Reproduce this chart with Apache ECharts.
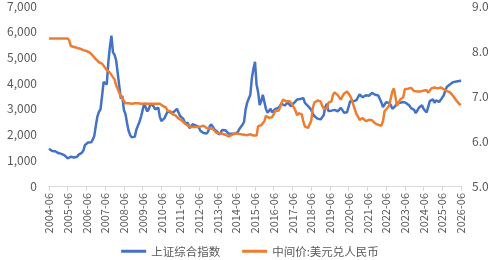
<!DOCTYPE html>
<html>
<head>
<meta charset="utf-8">
<script src="https://cdn.jsdelivr.net/npm/echarts@6/dist/echarts.min.js"></script>
<style>
  html, body { margin: 0; padding: 0; background: #fff; }
  #chart { width: 500px; height: 260px; }
</style>
</head>
<body>
<div id="chart"></div>
<script>
'use strict';

// monthly, 2004-06 .. 2026-06
var startYear = 2004, startMonth = 6, endYear = 2026, endMonth = 6;

var sseIndex = [
    1450, 1380, 1360, 1370, 1350, 1320, 1280,
    1240, 1250, 1220, 1190, 1120, 1070, 1060, 1140, 1170, 1110, 1100, 1140,
    1220, 1280, 1290, 1370, 1590, 1650, 1690, 1620, 1700, 1800, 1940, 2340,
    2700, 2880, 2980, 3500, 4050, 4050, 3950, 4800, 5400, 5850, 5200, 5100,
    4900, 4400, 3900, 3400, 3500, 2950, 2800, 2450, 2150, 1980, 1890, 1960,
    1920, 2200, 2250, 2500, 2700, 2950, 3230, 3050, 2900, 3000, 3200, 3150,
    3100, 2980, 3050, 3050, 2700, 2520, 2560, 2640, 2620, 2900, 2960, 2850,
    2780, 2880, 2940, 3000, 2860, 2720, 2760, 2620, 2460, 2400, 2450, 2250,
    2240, 2400, 2350, 2360, 2400, 2280, 2150, 2120, 2060, 2090, 2040, 2120,
    2320, 2400, 2300, 2200, 2250, 2100, 2000, 2080, 2180, 2180, 2170, 2160,
    2040, 2080, 2030, 2060, 2030, 2040, 2100, 2220, 2300, 2380, 2500, 2980,
    3250, 3300, 3550, 4200, 4550, 4830, 3950, 3650, 3150, 3300, 3550, 3580,
    3000, 2850, 2900, 3000, 2860, 2890, 3000, 3060, 3030, 3080, 3200, 3180,
    3130, 3200, 3240, 3200, 3100, 3150, 3230, 3280, 3360, 3390, 3380, 3310,
    3420, 3230, 3220, 3110, 3140, 2960, 2820, 2720, 2720, 2620, 2630, 2590,
    2580, 2750, 3060, 3200, 2920, 2950, 2930, 2860, 2960, 2950, 2900, 2960,
    3040, 2950, 2850, 2810, 2870, 2940, 3300, 3350, 3290, 3300, 3340, 3400,
    3560, 3540, 3450, 3440, 3530, 3570, 3510, 3480, 3620, 3570, 3550, 3610,
    3520, 3470, 3250, 3070, 3080, 3260, 3270, 3230, 3150, 3000, 3060, 3120,
    3220, 3260, 3240, 3300, 3270, 3210, 3220, 3190, 3120, 3030, 3050, 2960,
    2830, 2860, 3040, 3060, 3140, 3000, 2940, 2860, 2850, 3300, 3350, 3370,
    3240, 3330, 3370, 3270, 3350, 3390, 3530, 3720, 3860, 3920, 3960, 3920,
    4040, 4100, 4060, 4110, 4080, 4110
];

var usdCny = [
    8.28, 8.28, 8.28, 8.28, 8.28, 8.28, 8.28,
    8.28, 8.28, 8.28, 8.28, 8.28, 8.28, 8.23, 8.11, 8.09, 8.09, 8.08, 8.07,
    8.06, 8.05, 8.04, 8.02, 8.01, 8.00, 7.99, 7.97, 7.93, 7.90, 7.86, 7.82,
    7.78, 7.75, 7.74, 7.72, 7.67, 7.63, 7.58, 7.56, 7.52, 7.50, 7.42, 7.37,
    7.24, 7.16, 7.07, 7.00, 6.97, 6.89, 6.84, 6.84, 6.84, 6.83, 6.83, 6.84,
    6.84, 6.84, 6.84, 6.83, 6.83, 6.83, 6.83, 6.83, 6.83, 6.83, 6.83, 6.83,
    6.83, 6.83, 6.83, 6.83, 6.83, 6.82, 6.78, 6.79, 6.74, 6.67, 6.66, 6.66,
    6.60, 6.58, 6.57, 6.53, 6.50, 6.47, 6.46, 6.42, 6.39, 6.36, 6.34, 6.32,
    6.31, 6.30, 6.31, 6.29, 6.31, 6.32, 6.32, 6.34, 6.34, 6.30, 6.29, 6.29,
    6.28, 6.28, 6.27, 6.23, 6.19, 6.17, 6.17, 6.17, 6.16, 6.14, 6.14, 6.12,
    6.10, 6.11, 6.13, 6.16, 6.17, 6.16, 6.16, 6.16, 6.15, 6.14, 6.14, 6.12,
    6.13, 6.14, 6.15, 6.13, 6.12, 6.12, 6.12, 6.33, 6.37, 6.35, 6.38, 6.44,
    6.56, 6.53, 6.51, 6.47, 6.53, 6.59, 6.67, 6.65, 6.67, 6.74, 6.85, 6.92,
    6.90, 6.88, 6.89, 6.89, 6.88, 6.81, 6.77, 6.67, 6.57, 6.62, 6.62, 6.59,
    6.43, 6.32, 6.32, 6.29, 6.37, 6.44, 6.73, 6.85, 6.84, 6.90, 6.93, 6.88,
    6.79, 6.72, 6.71, 6.72, 6.85, 6.89, 6.88, 7.03, 7.08, 7.07, 7.02, 7.01,
    6.92, 6.99, 7.05, 7.07, 7.10, 7.08, 7.00, 6.92, 6.81, 6.70, 6.60, 6.54,
    6.47, 6.46, 6.51, 6.51, 6.44, 6.43, 6.47, 6.47, 6.46, 6.42, 6.39, 6.37,
    6.36, 6.34, 6.34, 6.44, 6.66, 6.70, 6.74, 6.79, 6.95, 7.10, 7.17, 6.98,
    6.78, 6.86, 6.92, 6.89, 6.97, 7.15, 7.17, 7.16, 7.18, 7.18, 7.15, 7.11,
    7.10, 7.10, 7.10, 7.10, 7.11, 7.12, 7.13, 7.13, 7.07, 7.09, 7.17, 7.19,
    7.19, 7.17, 7.17, 7.20, 7.19, 7.17, 7.15, 7.13, 7.11, 7.10, 7.08, 7.05,
    7.00, 6.95, 6.90, 6.86, 6.82, 6.80
];

var seriesNames = ['上证综合指数', '中间价:美元兑人民币'];
var seriesColors = ['#4472c4', '#ed7d31'];

function buildMonths() {
    var months = [];
    var y = startYear, m = startMonth;
    while (y < endYear || (y === endYear && m <= endMonth)) {
        months.push(y + '-' + (m < 10 ? '0' + m : m));
        m++;
        if (m > 12) { m = 1; y++; }
    }
    return months;
}

var months = buildMonths();
var labelFont = '"Noto Sans CJK SC", "Noto Sans", sans-serif';

var chart = echarts.init(document.getElementById('chart'), null, {renderer: 'canvas'});

chart.setOption({
    animation: false,
    legend: {
        data: seriesNames,
        bottom: 3,
        left: 'center',
        padding: 0,
        itemGap: 22,
        itemWidth: 25,
        itemHeight: 3,
        icon: 'rect',
        textStyle: {
            fontFamily: labelFont,
            fontSize: 11.5,
            color: '#595959'
        }
    },
    grid: {
        left: 49,
        right: 39,
        top: 2,
        bottom: 74,
        containLabel: false
    },
    xAxis: {
        type: 'category',
        data: months,
        boundaryGap: false,
        axisLine: {lineStyle: {color: '#d9d9d9', width: 1}},
        axisTick: {
            interval: 11,
            length: 5,
            lineStyle: {color: '#d9d9d9'}
        },
        axisLabel: {
            interval: 11,
            rotate: 90,
            margin: 7,
            fontFamily: labelFont,
            fontSize: 11,
            color: '#595959'
        },
        splitLine: {show: false}
    },
    yAxis: [
        {
            type: 'value',
            min: 0,
            max: 7000,
            interval: 1000,
            axisLine: {show: false},
            axisTick: {show: false},
            splitLine: {show: false},
            axisLabel: {
                margin: 12,
                fontFamily: labelFont,
                fontSize: 12,
                color: '#595959',
                formatter: function (v) {
                    return v.toLocaleString('en-US');
                }
            }
        },
        {
            type: 'value',
            min: 5,
            max: 9,
            interval: 1,
            position: 'right',
            axisLine: {show: false},
            axisTick: {show: false},
            splitLine: {show: false},
            axisLabel: {
                margin: 11,
                fontFamily: labelFont,
                fontSize: 12,
                color: '#595959',
                formatter: function (v) {
                    return v.toFixed(1);
                }
            }
        }
    ],
    series: [
        {
            name: seriesNames[0],
            type: 'line',
            yAxisIndex: 0,
            data: sseIndex,
            showSymbol: false,
            color: seriesColors[0],
            lineStyle: {width: 2.5, color: seriesColors[0]}
        },
        {
            name: seriesNames[1],
            type: 'line',
            yAxisIndex: 1,
            data: usdCny,
            showSymbol: false,
            color: seriesColors[1],
            lineStyle: {width: 2.5, color: seriesColors[1]}
        }
    ]
});
</script>
</body>
</html>
